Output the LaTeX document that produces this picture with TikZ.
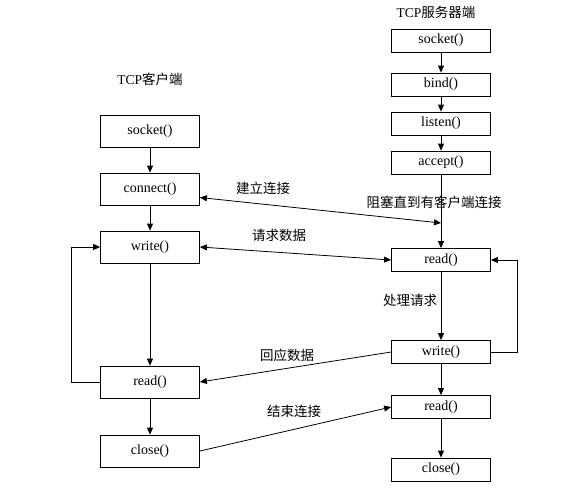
\documentclass[tikz,border=0pt]{standalone}
\usepackage{fontspec}
\setmainfont{Liberation Serif}
\newfontfamily\cjkfont{Noto Sans CJK SC}
\usetikzlibrary{arrows.meta}

\tikzset{
  callbox/.style={draw, line width=0.8pt, minimum width=99pt, inner sep=0pt,
    font=\fontsize{14}{16}\selectfont},
  clientbox/.style={callbox, minimum height=32pt},
  serverbox/.style={callbox, minimum height=23pt},
  flow/.style={line width=0.8pt, -{Triangle[length=7pt,width=6pt]}},
  duplex/.style={line width=0.8pt, {Triangle[length=7pt,width=6pt]}-{Triangle[length=7pt,width=6pt]}},
  caption/.style={font=\cjkfont\fontsize{13.5}{15}\selectfont, inner sep=0pt},
}

\begin{document}
\begin{tikzpicture}[x=1pt, y=-1pt]
  \useasboundingbox[fill=white] (0,0) rectangle (585,491);

  % client side
  \node[caption] (ctitle) at (150,79) {\fontspec{Liberation Serif}TCP\cjkfont 客户端};
  \node[clientbox] (csocket)  at (150,131) {socket()};
  \node[clientbox] (cconnect) at (150,189) {connect()};
  \node[clientbox] (cwrite)   at (150,247) {write()};
  \node[clientbox] (cread)    at (150,382) {read()};
  \node[clientbox] (cclose)   at (150,451) {close()};

  % server side
  \node[caption] (stitle) at (436,12) {\fontspec{Liberation Serif}TCP\cjkfont 服务器端};
  \node[serverbox] (ssocket) at (441,40.5)  {socket()};
  \node[serverbox] (sbind)   at (441,84.5)  {bind()};
  \node[serverbox] (slisten) at (441,123.5) {listen()};
  \node[serverbox] (saccept) at (441,162.5) {accept()};
  \node[serverbox] (sread)   at (441,260)   {read()};
  \node[serverbox] (swrite)  at (441,352)   {write()};
  \node[serverbox] (sread2)  at (441,407)   {read()};
  \node[serverbox] (sclose)  at (441,469.5) {close()};
  \coordinate (sblock) at (441,223);

  \node[caption] (lblock)   at (434,202) {阻塞直到有客户端连接};
  \node[caption] (lconnect) at (263,188) {建立连接};
  \node[caption] (lrequest) at (279,235) {请求数据};
  \node[caption] (lprocess) at (410,300) {处理请求};
  \node[caption] (lreply)   at (287,355) {回应数据};
  \node[caption] (lfinish)  at (294,411) {结束连接};

  \draw[flow] (csocket) -- (cconnect);
  \draw[flow] (cconnect) -- (cwrite);
  \draw[flow] (cwrite) -- (cread);
  \draw[flow] (cread) -- (cclose);
  \draw[flow] (cread.west) -- ++(-29,0) |- (cwrite.west);

  \draw[flow] (ssocket) -- (sbind);
  \draw[flow] (sbind) -- (slisten);
  \draw[flow] (slisten) -- (saccept);
  \draw[flow] (saccept) -- (sread);
  \draw[flow] (sread) -- (swrite);
  \draw[flow] (swrite) -- (sread2);
  \draw[flow] (sread2) -- (sclose);
  \draw[flow] (swrite.east) -- ++(26,0) |- (sread.east);

  % messages between the two sides
  \draw[duplex] ([yshift=-8.5pt]cconnect.east) -- (sblock);
  \draw[duplex] (cwrite.east) -- (sread.west);
  \draw[flow] (swrite.west) -- (cread.east);
  \draw[flow] (cclose.east) -- (sread2.west);
\end{tikzpicture}
\end{document}
